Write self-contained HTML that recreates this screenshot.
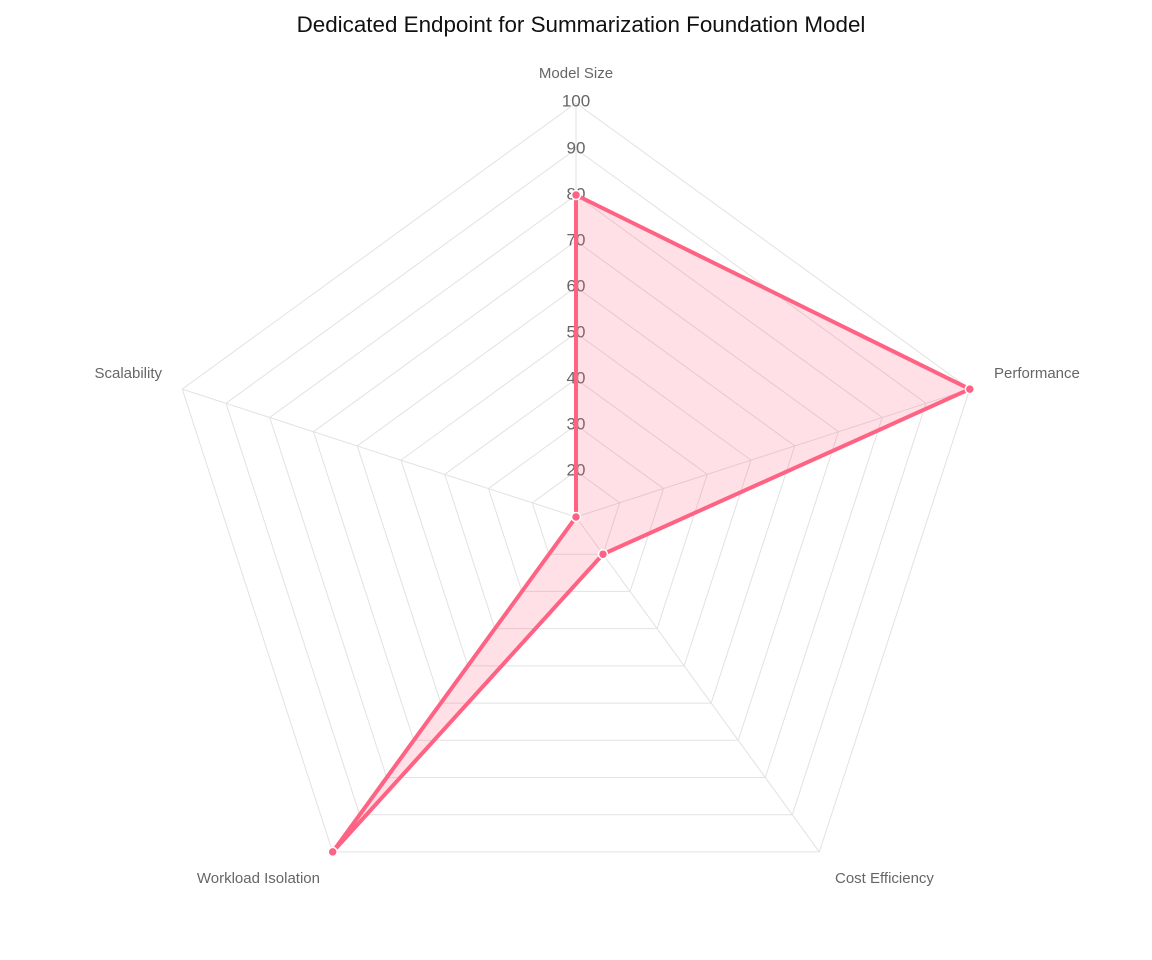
<!DOCTYPE html>
<html><head><meta charset="utf-8"><style>
html,body{margin:0;padding:0;background:#fff;}
svg{display:block;font-family:"Liberation Sans",Arial,sans-serif;}
</style></head><body>
<svg width="1152" height="960" viewBox="0 0 1152 960">
<text x="581" y="32" text-anchor="middle" font-size="22.4" fill="#111">Dedicated Endpoint for Summarization Foundation Model</text>
<g transform="translate(576,517)" fill="none" stroke="#e2e2e2" stroke-width="1">
<g>
<polygon vector-effect="non-scaling-stroke" transform="scale(46)" points="0,-1 0.9511,-0.309 0.5878,0.809 -0.5878,0.809 -0.9511,-0.309"/>
<polygon vector-effect="non-scaling-stroke" transform="scale(92)" points="0,-1 0.9511,-0.309 0.5878,0.809 -0.5878,0.809 -0.9511,-0.309"/>
<polygon vector-effect="non-scaling-stroke" transform="scale(138)" points="0,-1 0.9511,-0.309 0.5878,0.809 -0.5878,0.809 -0.9511,-0.309"/>
<polygon vector-effect="non-scaling-stroke" transform="scale(184)" points="0,-1 0.9511,-0.309 0.5878,0.809 -0.5878,0.809 -0.9511,-0.309"/>
<polygon vector-effect="non-scaling-stroke" transform="scale(230)" points="0,-1 0.9511,-0.309 0.5878,0.809 -0.5878,0.809 -0.9511,-0.309"/>
<polygon vector-effect="non-scaling-stroke" transform="scale(276)" points="0,-1 0.9511,-0.309 0.5878,0.809 -0.5878,0.809 -0.9511,-0.309"/>
<polygon vector-effect="non-scaling-stroke" transform="scale(322)" points="0,-1 0.9511,-0.309 0.5878,0.809 -0.5878,0.809 -0.9511,-0.309"/>
<polygon vector-effect="non-scaling-stroke" transform="scale(368)" points="0,-1 0.9511,-0.309 0.5878,0.809 -0.5878,0.809 -0.9511,-0.309"/>
<polygon vector-effect="non-scaling-stroke" transform="scale(414)" points="0,-1 0.9511,-0.309 0.5878,0.809 -0.5878,0.809 -0.9511,-0.309"/>
</g>
<line x1="0" y1="0" x2="0" y2="-414"/>
<line x1="0" y1="0" x2="393.8" y2="-127.9"/>
<line x1="0" y1="0" x2="243.3" y2="334.9"/>
<line x1="0" y1="0" x2="-243.3" y2="334.9"/>
<line x1="0" y1="0" x2="-393.8" y2="-127.9"/>
</g>
<g font-size="17" fill="#666" text-anchor="middle" dominant-baseline="middle">
<text x="576" y="471">20</text><text x="576" y="425">30</text><text x="576" y="379">40</text>
<text x="576" y="333">50</text><text x="576" y="287">60</text><text x="576" y="241">70</text>
<text x="576" y="195">80</text><text x="576" y="149">90</text><text x="576" y="102">100</text>
</g>
<g font-size="15" fill="#666">
<text x="576" y="78" text-anchor="middle">Model Size</text>
<text x="994" y="378">Performance</text>
<text x="835" y="883">Cost Efficiency</text>
<text x="320" y="883" text-anchor="end">Workload Isolation</text>
<text x="162" y="378" text-anchor="end">Scalability</text>
</g>
<polygon points="576,195 969.8,389.1 603,554.2 332.7,851.9 576,517" fill="rgba(255,99,132,0.2)" stroke="#ff6384" stroke-width="4" stroke-linejoin="miter"/>
<g fill="#ff6384" stroke="#fff" stroke-width="1.5">
<circle cx="576" cy="195" r="4.5"/><circle cx="969.8" cy="389.1" r="4.5"/>
<circle cx="603" cy="554.2" r="4.5"/><circle cx="332.7" cy="851.9" r="4.5"/>
<circle cx="576" cy="517" r="4.5"/>
</g>
</svg>
</body></html>
